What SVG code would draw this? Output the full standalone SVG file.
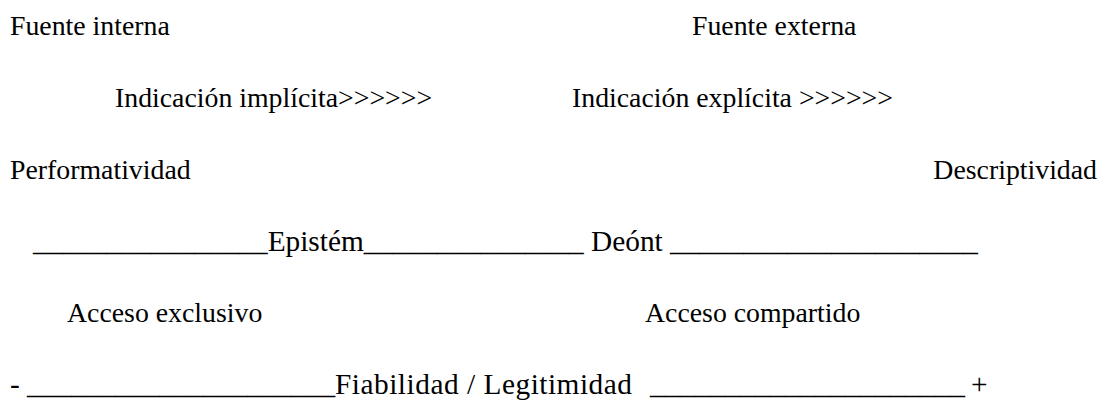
<svg xmlns="http://www.w3.org/2000/svg" width="1101" height="401" viewBox="0 0 1101 401">
<style>
text{font-family:"Liberation Serif","Times New Roman",serif;font-size:27.8px;fill:#000}
text.big{font-size:29.33px}
</style>
<rect width="1101" height="401" fill="#fff"/>
<g id="fuente-interna"><text x="10" y="35">Fuente interna</text></g>
<g id="fuente-externa"><text x="692" y="35">Fuente externa</text></g>
<g id="indicacion-implicita"><text x="115" y="107">Indicación implícita&gt;&gt;&gt;&gt;&gt;&gt;</text></g>
<g id="indicacion-explicita"><text x="572" y="107">Indicación explícita &gt;&gt;&gt;&gt;&gt;&gt;</text></g>
<g id="performatividad"><text x="10" y="179">Performatividad</text></g>
<g id="descriptividad"><text x="1097" y="179" text-anchor="end">Descriptividad</text></g>
<g id="eje-epistem-deont">
<text class="big" x="33" y="251">________________Epistém_______________ Deónt _____________________</text>
</g>
<g id="acceso-exclusivo"><text x="67" y="322">Acceso exclusivo</text></g>
<g id="acceso-compartido"><text x="645" y="322">Acceso compartido</text></g>
<g id="eje-fiabilidad">
<text class="big" x="10" y="394">- _____________________</text>
<text class="big" x="335" y="394" textLength="297" lengthAdjust="spacing">Fiabilidad / Legitimidad</text>
<text class="big" x="650" y="394" textLength="315" lengthAdjust="spacingAndGlyphs">_____________________</text>
<text class="big" x="971" y="394">+</text>
</g>
</svg>
